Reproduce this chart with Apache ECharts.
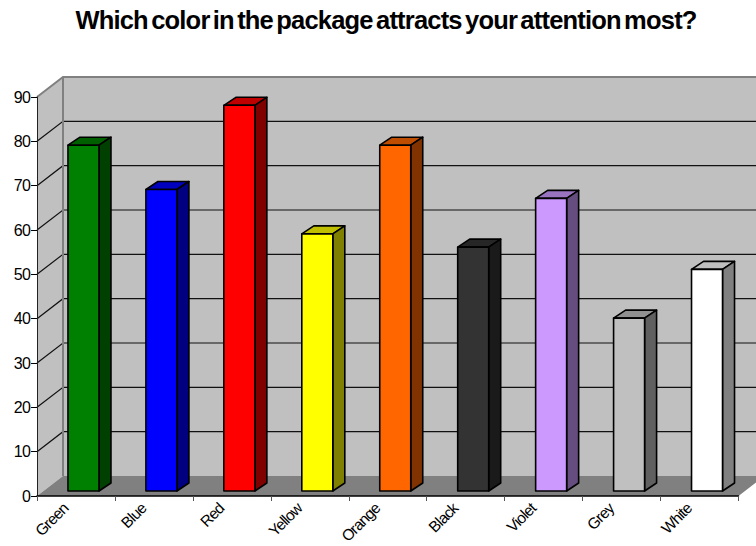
<!DOCTYPE html>
<html>
<head>
<meta charset="utf-8">
<style>
  html, body { margin: 0; padding: 0; background: #fff; }
  #chart { width: 756px; height: 546px; letter-spacing: -0.8px; word-spacing: -3px; }
</style>
<script src="https://cdn.jsdelivr.net/npm/echarts@6/dist/echarts.min.js"></script>
</head>
<body>
<div id="chart"></div>
<script>
const categories = ['Green', 'Blue', 'Red', 'Yellow', 'Orange', 'Black', 'Violet', 'Grey', 'White'];
const responses = [78, 68, 87, 58, 78, 55, 66, 39, 50];
const yTicks = [10, 20, 30, 40, 50, 60, 70, 80, 90];
const faceColors = ['#008000', '#0000ff', '#ff0000', '#ffff00', '#ff6600', '#333333', '#cc99ff', '#c0c0c0', '#ffffff'];

// Perspective of the box: how far the back wall sits from the front plane.
const WALL_DX = 26, WALL_DY = -20;
// Each column stands slightly inside the floor and has a small depth of its own.
const BAR_IN_X = -8, BAR_OUT_X = 23, BAR_IN_Y = -5, BAR_DX = 12, BAR_DY = -8;

function shade(hex, f) {
  const n = parseInt(hex.slice(1), 16);
  const c = s => Math.round(((n >> s) & 255) * f);
  return `rgb(${c(16)},${c(8)},${c(0)})`;
}

function renderWalls(params, api) {
  const band = api.size([1, 0])[0];
  const left = api.coord([0, 0])[0] - band / 2;
  const right = left + band * categories.length;
  const y0 = api.coord([0, 0])[1];
  const yTop = api.coord([0, 90])[1];
  const wallGrey = '#c0c0c0', edgeGrey = '#808080';
  const children = [
    { type: 'rect', shape: { x: left + WALL_DX, y: yTop + WALL_DY, width: right - left, height: y0 - yTop },
      style: { fill: wallGrey } },
    { type: 'polygon', shape: { points: [[left, yTop], [left + WALL_DX, yTop + WALL_DY], [left + WALL_DX, y0 + WALL_DY], [left, y0]] },
      style: { fill: wallGrey } },
    { type: 'polygon', shape: { points: [[left, y0], [left + WALL_DX, y0 + WALL_DY], [right + WALL_DX, y0 + WALL_DY], [right, y0]] },
      style: { fill: edgeGrey } }
  ];
  yTicks.filter(v => v < 90).forEach(v => {
    const y = api.coord([0, v])[1];
    children.push({ type: 'polyline',
      shape: { points: [[left, y], [left + WALL_DX, y + WALL_DY], [right + WALL_DX, y + WALL_DY]] },
      style: { fill: null, stroke: '#111', lineWidth: 1.2 } });
  });
  children.push({ type: 'polyline',
    shape: { points: [[left, yTop], [left + WALL_DX, yTop + WALL_DY], [right + WALL_DX, yTop + WALL_DY]] },
    style: { fill: null, stroke: edgeGrey, lineWidth: 2 } });
  children.push({ type: 'line',
    shape: { x1: left + WALL_DX, y1: yTop + WALL_DY, x2: left + WALL_DX, y2: y0 + WALL_DY },
    style: { stroke: edgeGrey, lineWidth: 2 } });
  return { type: 'group', children };
}

function renderColumn(params, api) {
  const top = api.coord([api.value(0), api.value(1)]);
  const base = api.coord([api.value(0), 0]);
  const face = faceColors[params.dataIndex];
  const x1 = top[0] + BAR_IN_X, x2 = top[0] + BAR_OUT_X;
  const yT = top[1] + BAR_IN_Y, yB = base[1] + BAR_IN_Y;
  const border = { stroke: '#000', lineWidth: 1.6, lineJoin: 'round' };
  return {
    type: 'group',
    children: [
      { type: 'polygon', shape: { points: [[x1, yT], [x1 + BAR_DX, yT + BAR_DY], [x2 + BAR_DX, yT + BAR_DY], [x2, yT]] },
        style: Object.assign({ fill: shade(face, 0.75) }, border) },
      { type: 'polygon', shape: { points: [[x2, yT], [x2 + BAR_DX, yT + BAR_DY], [x2 + BAR_DX, yB + BAR_DY], [x2, yB]] },
        style: Object.assign({ fill: shade(face, 0.5) }, border) },
      { type: 'rect', shape: { x: x1, y: yT, width: x2 - x1, height: yB - yT },
        style: Object.assign({ fill: face }, border) }
    ]
  };
}

const chart = echarts.init(document.getElementById('chart'), null, { renderer: 'svg' });
chart.setOption({
  animation: false,
  backgroundColor: '#fff',
  title: {
    text: 'Which color in the package attracts your attention most?',
    left: 381, top: 2, textAlign: 'center',
    textStyle: { fontFamily: 'Liberation Sans', fontSize: 25.5, fontWeight: 'bold', color: '#000' }
  },
  grid: { left: 37, right: 17.5, top: 97, bottom: 50, outerBoundsMode: 'none' },
  xAxis: {
    type: 'category', data: categories, z: 6,
    axisLine: { lineStyle: { color: '#000', width: 1.5 } },
    axisTick: { show: true, length: 5, lineStyle: { color: '#555', width: 1 } },
    axisLabel: { rotate: 45, interval: 0, margin: -1, padding: [0, 15, 0, 0], color: '#000',
      fontFamily: 'Liberation Sans', fontSize: 15.5 }
  },
  yAxis: {
    type: 'value', min: 0, max: 90, interval: 10, z: 6,
    axisLine: { show: true, lineStyle: { color: '#222', width: 1 } },
    axisTick: { show: true, length: 6, lineStyle: { color: '#000', width: 1 } },
    splitLine: { show: false },
    axisLabel: { margin: 7, color: '#000', fontFamily: 'Liberation Sans', fontSize: 16 }
  },
  series: [
    { type: 'custom', name: 'Box', z: 1, clip: false, silent: true, data: [[0, 0]], renderItem: renderWalls },
    { type: 'custom', name: 'Responses', z: 3, clip: false,
      encode: { x: 0, y: 1 },
      data: responses.map((v, i) => [i, v]),
      renderItem: renderColumn }
  ]
});
</script>
</body>
</html>
